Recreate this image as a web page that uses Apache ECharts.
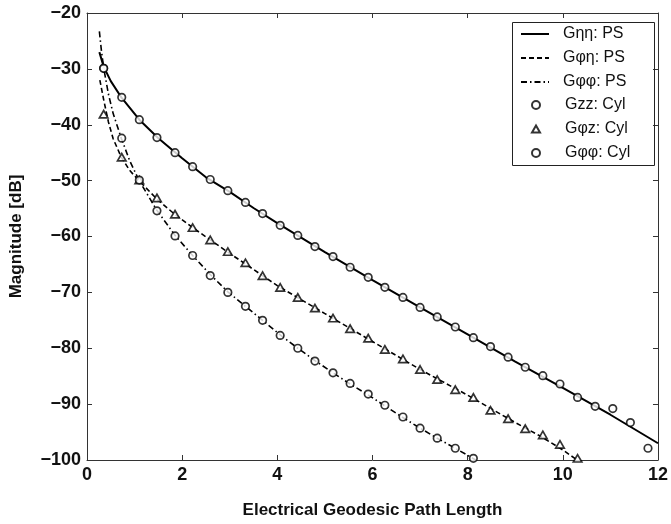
<!DOCTYPE html>
<html>
<head>
<meta charset="utf-8">
<script src="https://cdn.jsdelivr.net/npm/echarts@6/dist/echarts.min.js"></script>
<style>
html,body{margin:0;padding:0;background:#fff;}
#chart{width:671px;height:524px;}
</style>
</head>
<body>
<div id="chart"></div>
<script>
// ---- Data ----
const xTicks = [0, 2, 4, 6, 8, 10, 12];
const yTicks = [-100, -90, -80, -70, -60, -50, -40, -30, -20];

const seriesNames = ['Gηη: PS', 'Gφη: PS', 'Gφφ: PS', 'Gzz: Cyl', 'Gφz: Cyl', 'Gφφ: Cyl'];

// PS curves (x, dB)
const gEtaEtaPS = [[0.26,-27],[0.35,-29.6],[0.5,-32.2],[0.73,-35.2],[1.1,-39.1],[1.5,-42.4],[2,-46.0],[2.5,-49.4],[3,-52.0],[3.5,-54.9],[4,-57.6],[4.5,-60.2],[5,-62.8],[5.5,-65.3],[6,-67.8],[7,-72.7],[8,-77.5],[9,-82.4],[10,-87.1],[11,-91.9],[12,-97]];
const gPhiEtaPS = [[0.27,-32],[0.35,-35.5],[0.45,-39.5],[0.55,-42.5],[0.72,-45.8],[0.9,-48.2],[1.09,-50],[1.47,-53.3],[1.84,-56],[2.22,-58.4],[2.59,-60.6],[2.96,-62.8],[3.5,-65.9],[4,-68.8],[4.5,-71.3],[5,-73.8],[6,-78.8],[7,-83.8],[8,-88.4],[9,-93.3],[9.5,-95.6],[10,-98.2],[10.3,-100]];
const gPhiPhiPS = [[0.26,-23.3],[0.3,-26.5],[0.35,-29.8],[0.45,-34.5],[0.55,-38],[0.72,-42.4],[0.9,-46.5],[1.09,-49.9],[1.46,-55.2],[1.85,-59.8],[2.22,-63.4],[2.59,-66.8],[2.96,-69.9],[3.33,-72.5],[3.69,-75],[4.06,-77.6],[4.43,-80],[4.79,-82.2],[5.17,-84.4],[5.53,-86.4],[5.9,-88.3],[6.24,-90.2],[6.62,-92.3],[6.98,-94.2],[7.36,-96.1],[7.74,-97.9],[8.11,-99.7],[8.17,-100]];

// Cyl sample positions and values
const cylX = [0.35,0.73,1.10,1.47,1.85,2.22,2.59,2.96,3.33,3.69,4.06,4.43,4.79,5.17,5.53,5.91,6.26,6.64,7.00,7.36,7.74,8.12,8.48,8.85,9.21,9.58,9.94,10.31,10.68,11.05,11.42,11.79];
const gzzCyl = [-29.9,-35.1,-39.1,-42.3,-45.0,-47.5,-49.8,-51.8,-53.9,-55.9,-58.0,-59.8,-61.8,-63.6,-65.5,-67.3,-69.1,-70.9,-72.7,-74.4,-76.2,-78.1,-79.7,-81.6,-83.4,-84.9,-86.4,-88.8,-90.4,-90.8,-93.3,-97.9];
const gPhiZCyl = [-38.1,-45.8,-49.9,-53.1,-56.0,-58.4,-60.6,-62.7,-64.7,-67.0,-69.1,-70.9,-72.8,-74.6,-76.5,-78.2,-80.2,-81.9,-83.8,-85.6,-87.4,-88.8,-91.1,-92.6,-94.4,-95.5,-97.2,-99.7];
const gPhiPhiCyl = [-29.9,-42.4,-49.9,-55.4,-59.9,-63.4,-67.0,-70.0,-72.5,-75.0,-77.7,-80.0,-82.3,-84.4,-86.3,-88.2,-90.2,-92.3,-94.3,-96.1,-97.9,-99.7];

function pair(xs, ys){ return ys.map((v,i)=>[xs[i], v]); }

const FONT = '"Liberation Sans", Arial, Helvetica, sans-serif';
const minus = v => String(v).replace('-', '\u2212');
const TRI = 'path://M0,-1L0.866,0.5L-0.866,0.5Z';

const chart = echarts.init(document.getElementById('chart'), null, {renderer:'canvas'});

const axisLineStyle = {color:'#333', width:1};
const tickStyle = {show:true, inside:true, length:5, lineStyle:{color:'#333', width:1}};
const hideDot = {opacity:0};
const markerStyle = {color:'#fff', borderColor:'#000', borderWidth:1.7};

const option = {
  backgroundColor:'#fff',
  animation:false,
  grid:{left:78, right:13, top:13, bottom:54, containLabel:false},
  xAxis:[{
    type:'value', min:0, max:12, interval:2, position:'bottom',
    name:'Electrical Geodesic Path Length', nameLocation:'middle', nameGap:42,
    nameTextStyle:{fontFamily:FONT, fontSize:17, fontWeight:'bold', color:'#111'},
    axisLine:{show:true, onZero:false, lineStyle:axisLineStyle},
    axisTick:tickStyle,
    splitLine:{show:false},
    axisLabel:{fontFamily:FONT, fontSize:18, fontWeight:'bold', color:'#111', margin:6,
      formatter:v => xTicks.includes(v) ? minus(v) : ''}
  },{
    type:'value', min:0, max:12, interval:2, position:'top',
    axisLine:{show:true, onZero:false, lineStyle:axisLineStyle},
    axisTick:tickStyle, axisLabel:{show:false}, splitLine:{show:false}
  }],
  yAxis:[{
    type:'value', min:-100, max:-20, interval:10, position:'left',
    name:'Magnitude [dB]', nameLocation:'middle', nameGap:62, nameRotate:90,
    nameTextStyle:{fontFamily:FONT, fontSize:17, fontWeight:'bold', color:'#111'},
    axisLine:{show:true, onZero:false, lineStyle:axisLineStyle},
    axisTick:tickStyle,
    splitLine:{show:false},
    axisLabel:{fontFamily:FONT, fontSize:18, fontWeight:'bold', color:'#111', margin:6,
      formatter:v => yTicks.includes(v) ? minus(v) : ''}
  },{
    type:'value', min:-100, max:-20, interval:10, position:'right',
    axisLine:{show:true, onZero:false, lineStyle:axisLineStyle},
    axisTick:tickStyle, axisLabel:{show:false}, splitLine:{show:false}
  }],
  legend:[{
    orient:'vertical', left:520, top:26,
    itemWidth:28, itemHeight:14, itemGap:8,
    padding:0,
    data:[
      {name:seriesNames[0], itemStyle:hideDot},
      {name:seriesNames[1], itemStyle:hideDot},
      {name:seriesNames[2], itemStyle:hideDot}
    ],
    textStyle:{fontFamily:FONT, fontSize:16, color:'#111', lineHeight:14, padding:[0,0,0,9]}
  },{
    orient:'vertical', left:531, top:97,
    itemWidth:8, itemHeight:8, itemGap:8,
    padding:0,
    data:[seriesNames[3], seriesNames[4], seriesNames[5]],
    textStyle:{fontFamily:FONT, fontSize:16, color:'#111', lineHeight:14, padding:[0,0,0,20]}
  }],
  graphic:[{
    type:'rect', left:510, top:20, z:100,
    shape:{width:142, height:143},
    style:{fill:'none', stroke:'#222', lineWidth:1}
  }],
  series:[
    {name:seriesNames[0], type:'line', data:gEtaEtaPS, symbol:'none', z:2,
      lineStyle:{color:'#000', width:2, type:'solid'}, itemStyle:{color:'#000'}},
    {name:seriesNames[1], type:'line', data:gPhiEtaPS, symbol:'none', z:2,
      lineStyle:{color:'#000', width:1.6, type:[5,3]}, itemStyle:{color:'#000'}},
    {name:seriesNames[2], type:'line', data:gPhiPhiPS, symbol:'none', z:2,
      lineStyle:{color:'#000', width:1.6, type:[6,3,1.5,3]}, itemStyle:{color:'#000'}},
    {name:seriesNames[3], type:'scatter', data:pair(cylX, gzzCyl), symbol:'circle', symbolSize:7.5, z:3,
      itemStyle:markerStyle},
    {name:seriesNames[4], type:'scatter', data:pair(cylX, gPhiZCyl), symbol:TRI, symbolSize:8.5, symbolKeepAspect:true, z:3,
      itemStyle:markerStyle},
    {name:seriesNames[5], type:'scatter', data:pair(cylX, gPhiPhiCyl), symbol:'circle', symbolSize:7.5, z:3,
      itemStyle:markerStyle}
  ]
};
chart.setOption(option);
</script>
</body>
</html>
